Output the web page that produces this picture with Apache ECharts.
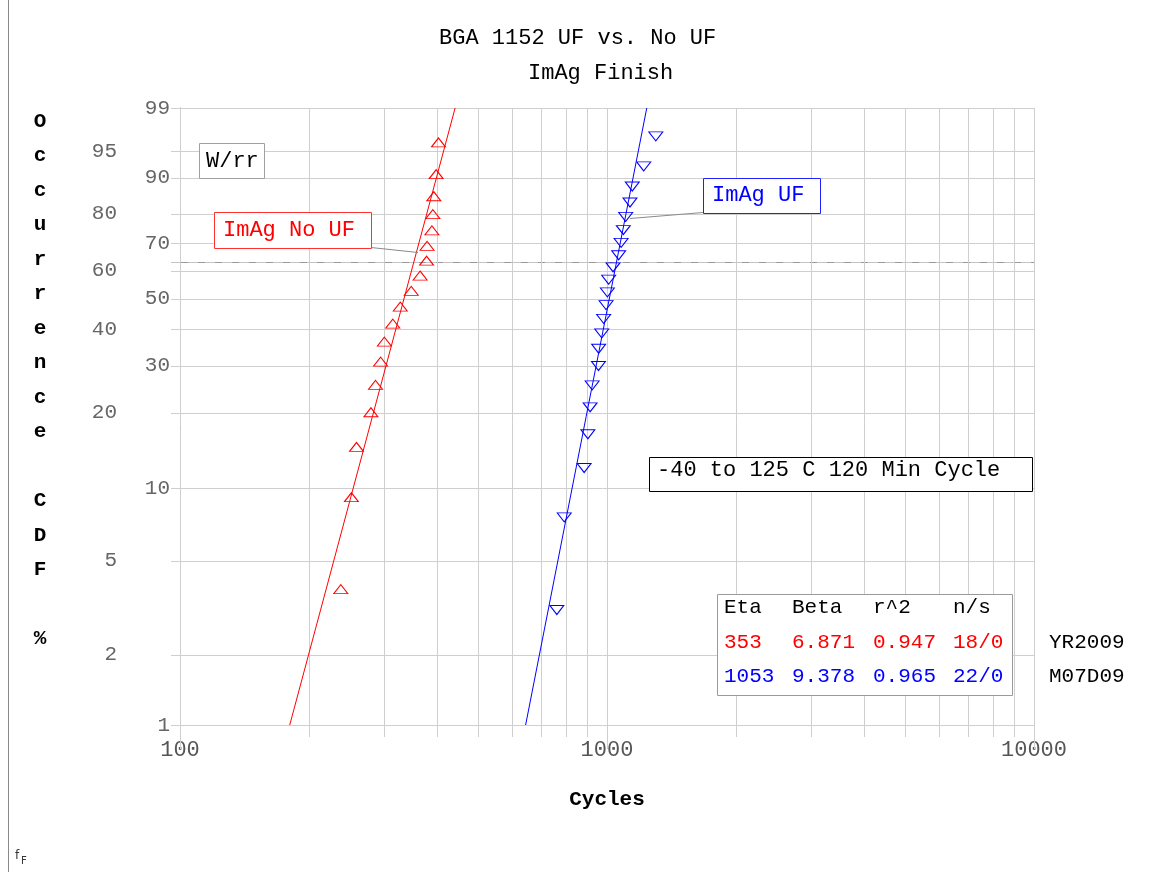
<!DOCTYPE html>
<html>
<head>
<meta charset="utf-8">
<title>BGA 1152 UF vs. No UF</title>
<style>
  html, body { margin: 0; padding: 0; background: #fff; }
  #chart { width: 1154px; height: 872px; }
</style>
<script src="https://cdn.jsdelivr.net/npm/echarts@6/dist/echarts.min.js"></script>
</head>
<body>
<div id="chart"></div>
<script>
// ---- data ----
const seriesNames = ['ImAg No UF', 'ImAg UF'];
const seriesColors = ['#ff0000', '#0000ff'];

// failures (cycles) and plotted median ranks (%)
const noUfCycles = [238, 252, 259, 280, 287, 295, 301, 315, 328, 348, 365, 378, 379, 389, 391, 393, 398, 403];
const noUfPct = [3.8, 9.2, 14.7, 20.1, 25.5, 31.0, 36.4, 41.8, 47.3, 52.7, 58.2, 63.6, 69.0, 74.5, 79.9, 85.3, 90.8, 96.2];
const ufCycles = [763, 794, 884, 902, 913, 923, 955, 956, 972, 982, 995, 1002, 1009, 1033, 1065, 1079, 1092, 1106, 1132, 1146, 1219, 1301];
const ufPct = [3.1, 7.6, 12.1, 16.5, 21.0, 25.4, 29.9, 34.4, 38.8, 43.3, 47.8, 52.2, 56.7, 61.2, 65.6, 70.1, 74.6, 79.0, 83.5, 87.9, 92.4, 96.9];

// Weibull fit results
const etaVals = [353, 1053];
const betaVals = [6.871, 9.378];
const r2Vals = ['0.947', '0.965'];
const nsVals = ['18/0', '22/0'];

// axis ticks
const yTickPct = [1, 2, 5, 10, 20, 30, 40, 50, 60, 70, 80, 90, 95, 99];
const yNearCol = [1, 10, 30, 50, 70, 90, 99];
const xGridVals = [100, 200, 300, 400, 500, 600, 700, 800, 900,
                   1000, 2000, 3000, 4000, 5000, 6000, 7000, 8000, 9000, 10000];
const charLifePct = [63.2];

// ---- helpers ----
const MONO = "'Courier New', 'Liberation Mono', monospace";
const W = p => Math.log(-Math.log(1 - p / 100));       // Weibull probability scale
const yMin = W(1), yMax = W(99);
const fitLine = (eta, beta) => [1, 99].map(p => [eta * Math.pow(-Math.log(1 - p / 100), 1 / beta), W(p)]);
const crisp = v => Math.round(v) + 0.5;

const chart = echarts.init(document.getElementById('chart'), null, { renderer: 'canvas' });

// vertical grid lines, running past the x axis as tick marks
function renderVGrid(params, api) {
  const v = api.value(0);
  const top = api.coord([v, yMax]);
  const bot = api.coord([v, yMin]);
  const major = Math.abs(Math.log10(v) - Math.round(Math.log10(v))) < 1e-9;
  const x = crisp(top[0]);
  return {
    type: 'line',
    shape: { x1: x, y1: top[1], x2: x, y2: bot[1] + (major ? 24 : 12) },
    style: { stroke: '#cfcfcf', lineWidth: 1 }
  };
}
// horizontal grid lines, running left of the y axis as tick marks
function renderHGrid(params, api) {
  const w = api.value(1);
  const l = api.coord([100, w]);
  const r = api.coord([10000, w]);
  const y = crisp(l[1]);
  return {
    type: 'line',
    shape: { x1: l[0] - 9, y1: y, x2: r[0], y2: y },
    style: { stroke: '#cfcfcf', lineWidth: 1 }
  };
}
// characteristic-life (63.2 %) reference line
function renderDash(params, api) {
  const w = api.value(1);
  const l = api.coord([100, w]);
  const r = api.coord([10000, w]);
  const y = crisp(l[1]);
  return {
    type: 'line',
    shape: { x1: l[0] - 9, y1: y, x2: r[0], y2: y },
    style: { stroke: '#c4c4c4', lineWidth: 1, lineDash: [10, 7] }
  };
}

function boxText(x, y, text, color, size) {
  return {
    type: 'text', x: x, y: y, z: 101,
    style: { text: text, fill: color, fontFamily: MONO, fontSize: size || 22, align: 'left', verticalAlign: 'middle' }
  };
}
function box(x, y, w, h, stroke) {
  return {
    type: 'rect', z: 100,
    shape: { x: x + 0.5, y: y + 0.5, width: w, height: h },
    style: { fill: '#fff', stroke: stroke, lineWidth: 1 }
  };
}
function seg(x1, y1, x2, y2, color) {
  return {
    type: 'line', z: 99,
    shape: { x1: x1, y1: y1, x2: x2, y2: y2 },
    style: { stroke: color, lineWidth: 1 }
  };
}

// results table
const tableCols = [724, 792, 873, 953];
const tableRows = [607, 642, 676];
const tableEls = [box(717, 594, 295, 101, '#9a9a9a')];
['Eta', 'Beta', 'r^2', 'n/s'].forEach((h, c) => tableEls.push(boxText(tableCols[c], tableRows[0], h, '#000', 21)));
[0, 1].forEach(i => {
  const cells = [String(etaVals[i]), betaVals[i].toFixed(3), r2Vals[i], nsVals[i]];
  cells.forEach((t, c) => tableEls.push(boxText(tableCols[c], tableRows[i + 1], t, seriesColors[i], 21)));
});
tableEls.push(boxText(1049, tableRows[1], 'YR2009', '#000', 21));
tableEls.push(boxText(1049, tableRows[2], 'M07D09', '#000', 21));

const yTitle = 'Occurrence'.split('').concat(['', 'C', 'D', 'F', '', '%']).join('\n');

const option = {
  animation: false,
  backgroundColor: '#fff',
  title: [
    { text: 'BGA 1152 UF vs. No UF', left: 434, top: 22,
      textStyle: { fontFamily: MONO, fontSize: 22, fontWeight: 'normal', color: '#000' } },
    { text: 'ImAg Finish', left: 523, top: 57,
      textStyle: { fontFamily: MONO, fontSize: 22, fontWeight: 'normal', color: '#000' } }
  ],
  grid: { left: 180, right: 120, top: 108, bottom: 147, containLabel: false, outerBoundsMode: 'none' },
  xAxis: {
    type: 'log', logBase: 10, min: 100, max: 10000,
    axisLine: { lineStyle: { color: '#999', width: 1 } },
    axisTick: { show: false },
    splitLine: { show: false },
    axisLabel: { fontFamily: MONO, fontSize: 22, color: '#555', margin: 14,
                 formatter: v => String(Math.round(v)) },
    name: 'Cycles', nameLocation: 'middle', nameGap: 64,
    nameTextStyle: { fontFamily: MONO, fontSize: 21, fontWeight: 'bold', color: '#000' }
  },
  yAxis: {
    type: 'value', min: yMin, max: yMax,
    axisLine: { show: true, lineStyle: { color: '#999', width: 1 } },
    axisTick: { show: false },
    splitLine: { show: false },
    axisLabel: {
      customValues: yTickPct.map(W),
      margin: 10,
      formatter: v => {
        const p = Math.round((1 - Math.exp(-Math.exp(v))) * 100);
        return yNearCol.includes(p) ? '{n|' + p + '}' : '{f|' + p + '}';
      },
      rich: {
        n: { fontFamily: MONO, fontSize: 21, color: '#666' },
        f: { fontFamily: MONO, fontSize: 21, color: '#666', padding: [0, 53, 0, 0] }
      }
    }
  },
  series: [
    { type: 'custom', name: 'vgrid', silent: true, z: 1, clip: false,
      data: xGridVals.map(v => [v, yMin]), encode: { x: 0, y: 1 }, renderItem: renderVGrid },
    { type: 'custom', name: 'hgrid', silent: true, z: 1, clip: false,
      data: yTickPct.map(p => [100, W(p)]), encode: { x: 0, y: 1 }, renderItem: renderHGrid },
    { type: 'custom', name: 'eta-line', silent: true, z: 1, clip: false,
      data: charLifePct.map(p => [100, W(p)]), encode: { x: 0, y: 1 }, renderItem: renderDash },
    { type: 'line', name: seriesNames[0] + ' fit', data: fitLine(etaVals[0], betaVals[0]),
      showSymbol: false, z: 3, lineStyle: { color: seriesColors[0], width: 1 } },
    { type: 'line', name: seriesNames[1] + ' fit', data: fitLine(etaVals[1], betaVals[1]),
      showSymbol: false, z: 3, lineStyle: { color: seriesColors[1], width: 1 } },
    { type: 'scatter', name: seriesNames[0], z: 4,
      data: noUfCycles.map((t, i) => [t, W(noUfPct[i])]),
      symbol: 'triangle', symbolSize: [14, 9],
      itemStyle: { color: 'rgba(0,0,0,0)', borderColor: seriesColors[0], borderWidth: 1, opacity: 1 } },
    { type: 'scatter', name: seriesNames[1], z: 4,
      data: ufCycles.map((t, i) => [t, W(ufPct[i])]),
      symbol: 'triangle', symbolSize: [14, 9], symbolRotate: 180,
      itemStyle: { color: 'rgba(0,0,0,0)', borderColor: seriesColors[1], borderWidth: 1, opacity: 1 } }
  ],
  graphic: [
    // page edge
    seg(8.5, 0, 8.5, 872, '#8a8a8a'),
    // y axis title, one letter per line
    { type: 'text', x: 40, y: 104, z: 101,
      style: { text: yTitle, fill: '#000', fontFamily: MONO, fontSize: 21, fontWeight: 'bold',
               align: 'center', verticalAlign: 'top', lineHeight: 34.5 } },
    // method label
    box(199, 143, 65, 35, '#a0a0a0'),
    boxText(206, 161, 'W/rr', '#000'),
    // series labels with leaders
    seg(371, 247.5, 418, 252.5, '#8a8a8a'),
    box(214, 212, 157, 36, '#ff3030'),
    boxText(223, 230, seriesNames[0], seriesColors[0]),
    seg(703, 212.5, 630, 218.5, '#8a8a8a'),
    box(703, 178, 117, 35, '#2020ff'),
    boxText(712, 195, seriesNames[1], seriesColors[1]),
    // test condition
    box(649, 457, 383, 34, '#000'),
    boxText(657, 470, '-40 to 125 C 120 Min Cycle', '#000'),
    // footer mark
    { type: 'text', x: 15, y: 850, z: 101, style: { text: 'f', fill: '#333', fontFamily: 'DejaVu Sans', fontSize: 12 } },
    { type: 'text', x: 21, y: 856, z: 101, style: { text: 'F', fill: '#333', fontFamily: 'DejaVu Sans', fontSize: 10 } }
  ].concat(tableEls)
};

chart.setOption(option);
</script>
</body>
</html>
